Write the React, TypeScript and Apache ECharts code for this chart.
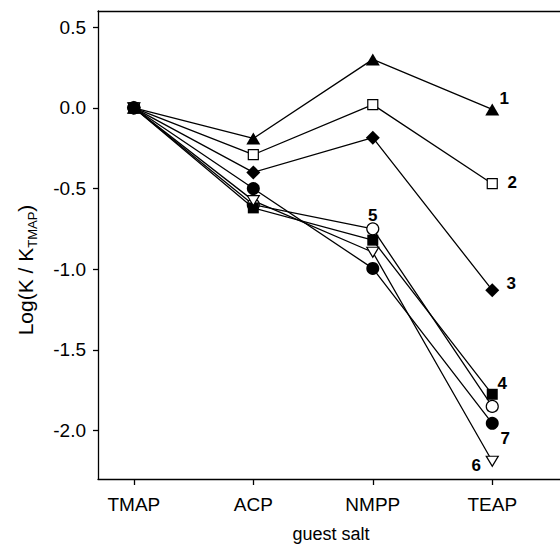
import React, { useEffect, useRef } from "react";
import * as echarts from "echarts";

const categories = ["TMAP", "ACP", "NMPP", "TEAP"];
const xPositions = [1, 2, 3, 4];
const yTicks = [-2.0, -1.5, -1.0, -0.5, 0.0, 0.5];

const s1 = [0, -0.19, 0.3, -0.01];
const s2 = [0, -0.29, 0.02, -0.47];
const s3 = [0, -0.4, -0.185, -1.13];
const s4 = [0, -0.62, -0.82, -1.775];
const s5 = [0, -0.6, -0.75, -1.85];
const s6 = [0, -0.575, -0.895, -2.19];
const s7 = [0, -0.5, -0.995, -1.955];

const seriesNames = ["1", "2", "3", "4", "5", "6", "7"];

const FONT = "'Liberation Sans', Arial, Helvetica, sans-serif";

export default function App() {
  const ref = useRef<HTMLDivElement>(null);
  useEffect(() => {
    if (!ref.current) return;
    const chart = echarts.init(ref.current, null, { renderer: "svg" });

    const mk = (
      name: string,
      vals: number[],
      symbol: string,
      size: number | number[],
      filled: boolean,
      labelIdx: number,
      labelOffset: number[],
      rotate = 0
    ) => ({
      name,
      type: "line",
      symbol,
      symbolSize: size,
      symbolRotate: rotate,
      showAllSymbol: true,
      lineStyle: { color: "#000", width: 1.3 },
      itemStyle: {
        color: filled ? "#000" : "#fff",
        borderColor: "#000",
        borderWidth: filled ? 0 : 1.2,
      },
      data: vals.map((v, i) => ({
        value: [xPositions[i], v],
        label:
          i === labelIdx
            ? {
                show: true,
                position: "inside",
                offset: labelOffset,
                formatter: name,
                color: "#000",
                fontFamily: FONT,
                fontWeight: "bold",
                fontSize: 17,
                rotate: 0,
              }
            : { show: false },
      })),
    });

    chart.setOption({
      animation: false,
      backgroundColor: "#fff",
      grid: { left: 98, top: 11, width: 466, height: 468 },
      xAxis: [
        {
          type: "value",
          min: 0.7,
          max: 4.567,
          axisLine: { show: true, onZero: false, lineStyle: { color: "#000", width: 1.3 } },
          axisTick: {
            show: true,
            inside: false,
            length: 6,
            customValues: xPositions,
            lineStyle: { color: "#000", width: 1.3 },
          },
          axisLabel: {
            customValues: xPositions,
            formatter: (v: number) => categories[Math.round(v) - 1] ?? "",
            color: "#000",
            fontFamily: FONT,
            fontSize: 19,
            margin: 16,
          },
          splitLine: { show: false },
        },
        {
          type: "value",
          position: "top",
          min: 0.7,
          max: 4.567,
          axisLine: { show: true, onZero: false, lineStyle: { color: "#000", width: 1.3 } },
          axisTick: { show: false },
          axisLabel: { show: false },
          splitLine: { show: false },
        },
      ],
      yAxis: {
        type: "value",
        min: -2.3,
        max: 0.6,
        axisLine: { show: true, onZero: false, lineStyle: { color: "#000", width: 1.3 } },
        axisTick: {
          show: true,
          length: 5,
          customValues: yTicks,
          lineStyle: { color: "#000", width: 1.3 },
        },
        axisLabel: {
          customValues: yTicks,
          formatter: (v: number) => v.toFixed(1),
          color: "#000",
          fontFamily: FONT,
          fontSize: 19,
          margin: 12,
        },
        splitLine: { show: false },
      },
      graphic: [
        {
          type: "text",
          x: 25,
          y: 270,
          rotation: Math.PI / 2,
          style: {
            text: "{a|Log(K / K}{b|TMAP}{a|)}",
            align: "center",
            verticalAlign: "middle",
            fill: "#000",
            rich: {
              a: { fontFamily: FONT, fontSize: 21, lineHeight: 28, verticalAlign: "middle", fill: "#000" },
              b: { fontFamily: FONT, fontSize: 13, lineHeight: 13, verticalAlign: "bottom", fill: "#000" },
            },
          },
        },
        {
          type: "text",
          x: 331,
          y: 525,
          style: {
            text: "guest salt",
            align: "center",
            verticalAlign: "top",
            fontFamily: FONT,
            fontSize: 18,
            fill: "#000",
          },
        },
      ],
      series: [
        mk(seriesNames[0], s1, "triangle", [14, 12], true, 3, [12, -11]),
        mk(seriesNames[1], s2, "rect", 10, false, 3, [20, -1]),
        mk(seriesNames[2], s3, "diamond", [14, 14], true, 3, [19, -7]),
        mk(seriesNames[4], s5, "circle", 12, false, 2, [0, -13]),
        mk(seriesNames[3], s4, "rect", 11, true, 3, [10, -11]),
        mk(seriesNames[5], s6, "triangle", [12, 10], false, 3, [-16, 4], 180),
        mk(seriesNames[6], s7, "circle", 13, true, 3, [13, 15]),
      ],
    });
    return () => chart.dispose();
  }, []);
  return (
    <div
      ref={ref}
      style={{ position: "fixed", left: 0, top: 0, width: 560, height: 545 }}
    />
  );
}
